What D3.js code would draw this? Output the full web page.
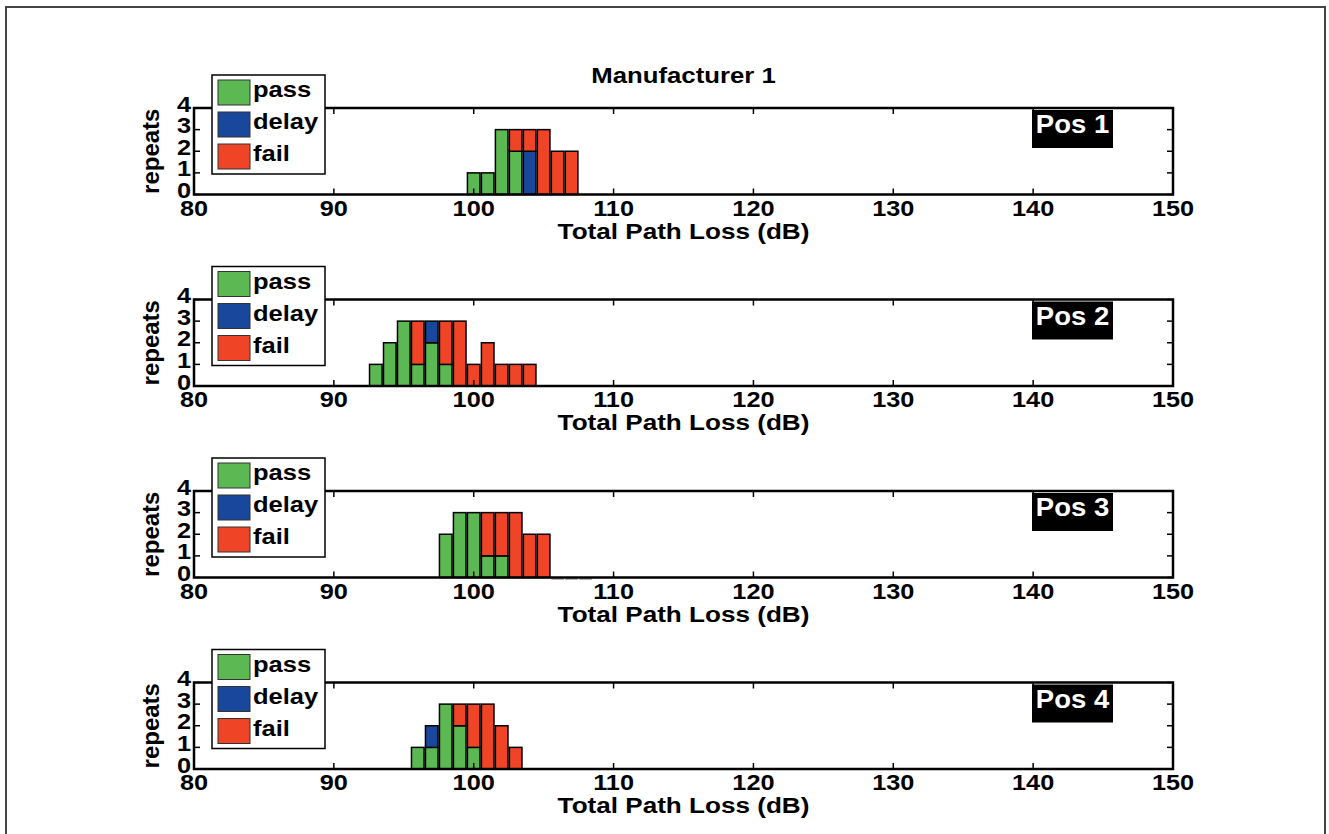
<!DOCTYPE html>
<html>
<head>
<meta charset="utf-8">
<script src="https://cdn.jsdelivr.net/npm/d3@7"></script>
<style>
  html, body { margin: 0; padding: 0; background: #fff; }
  svg { display: block; }
  text { font-family: "Liberation Sans", Arial, Helvetica, sans-serif; font-weight: bold; }
</style>
</head>
<body>
<svg id="chart" width="1329" height="834"></svg>
<script>
// ---- Data ----
const title = "Manufacturer 1";
const xLabel = "Total Path Loss (dB)";
const yLabel = "repeats";
const xTicks = [80, 90, 100, 110, 120, 130, 140, 150];
const yTicks = [0, 1, 2, 3, 4];
const seriesNames = ["pass", "delay", "fail"];
const seriesColors = ["#5cb852", "#18479b", "#ef4526"];
const panelNames = ["Pos 1", "Pos 2", "Pos 3", "Pos 4"];

// Panel 1
const bins1  = [100, 101, 102, 103, 104, 105, 106, 107];
const pass1  = [1, 1, 3, 2, 0, 0, 0, 0];
const delay1 = [0, 0, 0, 0, 2, 0, 0, 0];
const fail1  = [0, 0, 0, 1, 1, 3, 2, 2];
// Panel 2
const bins2  = [93, 94, 95, 96, 97, 98, 99, 100, 101, 102, 103, 104];
const pass2  = [1, 2, 3, 1, 2, 1, 0, 0, 0, 0, 0, 0];
const delay2 = [0, 0, 0, 0, 1, 0, 0, 0, 0, 0, 0, 0];
const fail2  = [0, 0, 0, 2, 0, 2, 3, 1, 2, 1, 1, 1];
// Panel 3
const bins3  = [98, 99, 100, 101, 102, 103, 104, 105, 106, 107, 108];
const pass3  = [2, 3, 3, 1, 1, 0, 0, 0, 0, 0, 0];
const delay3 = [0, 0, 0, 0, 0, 0, 0, 0, 0, 0, 0];
const fail3  = [0, 0, 0, 2, 2, 3, 2, 2, 0, 0, 0];
// Panel 4
const bins4  = [96, 97, 98, 99, 100, 101, 102, 103];
const pass4  = [1, 1, 3, 2, 1, 0, 0, 0];
const delay4 = [0, 1, 0, 0, 0, 0, 0, 0];
const fail4  = [0, 0, 0, 1, 2, 3, 2, 1];

const panels = [
  { bins: bins1, series: [pass1, delay1, fail1] },
  { bins: bins2, series: [pass2, delay2, fail2] },
  { bins: bins3, series: [pass3, delay3, fail3] },
  { bins: bins4, series: [pass4, delay4, fail4] }
];

// ---- Layout ----
const svg = d3.select("#chart");
const left = 194, right = 1173;
const panelTops = [108, 299.5, 491, 682.5];
const ph = 86.5;
const barW = 0.9; // in dB units

// helper: text with a slight horizontal stretch (the reference glyphs are wide)
function stext(parent, tx, ty, str, size, sx, anchor, fill) {
  return parent.append("text")
    .attr("transform", `translate(${tx},${ty}) scale(${sx},1)`)
    .attr("text-anchor", anchor || "start")
    .attr("font-size", size)
    .attr("fill", fill || "#000")
    .text(str);
}

// outer frame
svg.append("path")
  .attr("d", "M6,840 L6,7 L1325,7 L1325,840")
  .attr("fill", "none").attr("stroke", "#444").attr("stroke-width", 2);

stext(svg, (left + right) / 2, 83, title, 22, 1.17, "middle");

const x = d3.scaleLinear().domain([80, 150]).range([left, right]);

panels.forEach((p, i) => {
  const top = panelTops[i];
  const y = d3.scaleLinear().domain([0, 4]).range([top + ph, top]);
  const g = svg.append("g");

  // bars
  const stack = d3.stack().keys([0, 1, 2]).value((d, k) => d[k]);
  const rows = p.bins.map((b, j) => [p.series[0][j], p.series[1][j], p.series[2][j], b]);
  const stacked = stack(rows);
  stacked.forEach((layer, k) => {
    layer.forEach((seg, j) => {
      const b = p.bins[j];
      if (seg[1] - seg[0] > 0) {
        g.append("rect")
          .attr("x", x(b - barW / 2))
          .attr("width", x(b + barW / 2) - x(b - barW / 2))
          .attr("y", y(seg[1]))
          .attr("height", y(seg[0]) - y(seg[1]))
          .attr("fill", seriesColors[k])
          .attr("stroke", "#000").attr("stroke-width", 1.5);
      }
    });
  });
  // zero-height bins leave a faint outline on the baseline
  p.bins.forEach((b, j) => {
    const tot = p.series[0][j] + p.series[1][j] + p.series[2][j];
    if (tot === 0) {
      g.append("line")
        .attr("x1", x(b - barW / 2)).attr("x2", x(b + barW / 2))
        .attr("y1", y(0) + 1.5).attr("y2", y(0) + 1.5)
        .attr("stroke", "#999").attr("stroke-width", 1.5);
    }
  });

  // ticks (inside, all four sides)
  const tl = 6;
  xTicks.forEach(t => {
    g.append("line").attr("x1", x(t)).attr("x2", x(t))
      .attr("y1", y(0)).attr("y2", y(0) - tl).attr("stroke", "#000").attr("stroke-width", 1.5);
    g.append("line").attr("x1", x(t)).attr("x2", x(t))
      .attr("y1", y(4)).attr("y2", y(4) + tl).attr("stroke", "#000").attr("stroke-width", 1.5);
    stext(g, x(t), top + ph + 21, t, 22, 1.15, "middle");
  });
  yTicks.forEach(t => {
    g.append("line").attr("x1", left).attr("x2", left + tl)
      .attr("y1", y(t)).attr("y2", y(t)).attr("stroke", "#000").attr("stroke-width", 1.5);
    g.append("line").attr("x1", right).attr("x2", right - tl)
      .attr("y1", y(t)).attr("y2", y(t)).attr("stroke", "#000").attr("stroke-width", 1.5);
    stext(g, left - 3, y(t) + 3.5, t, 22, 1.15, "end");
  });

  // axes box
  g.append("rect").attr("x", left).attr("y", top)
    .attr("width", right - left).attr("height", ph)
    .attr("fill", "none").attr("stroke", "#000").attr("stroke-width", 2.5);

  // axis labels
  stext(g, (left + right) / 2, top + ph + 44, xLabel, 22.5, 1.16, "middle");
  g.append("text")
    .attr("transform", `translate(159,${top + ph / 2}) rotate(-90)`)
    .attr("text-anchor", "middle").attr("font-size", 24).text(yLabel);

  // Pos label
  g.append("rect").attr("x", 1032).attr("y", top + 2).attr("width", 81).attr("height", 38).attr("fill", "#000");
  stext(g, 1072.5, top + 25, panelNames[i], 25, 1.1, "middle", "#fff");

  // legend
  const ly = top - 33;
  g.append("rect").attr("x", 212).attr("y", ly).attr("width", 113).attr("height", 99)
    .attr("fill", "#fff").attr("stroke", "#000").attr("stroke-width", 1.5);
  seriesNames.forEach((n, k) => {
    g.append("rect").attr("x", 218).attr("y", ly + 5 + k * 32).attr("width", 32).attr("height", 25)
      .attr("fill", seriesColors[k]).attr("stroke", "#333").attr("stroke-width", 1);
    stext(g, 253, ly + 22 + k * 32, n, 22, 1.16, "start");
  });
});
</script>
</body>
</html>
